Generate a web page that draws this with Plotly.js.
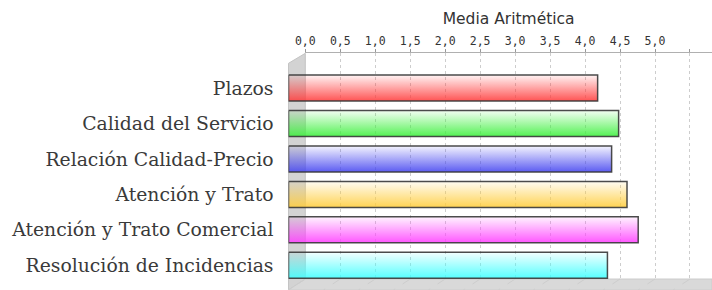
<!DOCTYPE html>
<html>
<head>
<meta charset="utf-8">
<script src="https://cdn.plot.ly/plotly-3.0.1.min.js"></script>
<style>html,body{margin:0;padding:0;background:#fff}#chart{width:712px;height:290px}</style>
</head>
<body>
<div id="chart"></div>
<script>
// ---- data ----
const categories = ["Plazos", "Calidad del Servicio", "Relación Calidad-Precio", "Atención y Trato", "Atención y Trato Comercial", "Resolución de Incidencias"];
const values = [4.42, 4.72, 4.62, 4.84, 5.00, 4.56];
const tickVals = [0, 0.5, 1, 1.5, 2, 2.5, 3, 3.5, 4, 4.5, 5, 5.5];
const tickText = ["0,0", "0,5", "1,0", "1,5", "2,0", "2,5", "3,0", "3,5", "4,0", "4,5", "5,0", ""];
const axisTitle = "Media Aritmética";

// ---- styling / geometry ----
const W = 712, H = 290;
const barRGB = [[255,60,60],[60,240,60],[70,70,240],[255,205,60],[255,64,255],[64,255,255]];
const scale = 69.94;            // px per unit
const frontLeft = 288.5, backLeft = 305.3;
const frontTop = 63.3, backTop = 53.3, backBottom = 279, frontBottom = 290;
const catCenter0 = 88.1, catPitch = 35.43, halfBar = 0.367;
const px = x => x / W, py = y => 1 - y / H;

const traces = [
  // empty trace so the back-plane axis (ticks, grid, title) is drawn
  {type: 'scatter', mode: 'none', x: [], y: [], xaxis: 'x', yaxis: 'y', hoverinfo: 'skip', showlegend: false}
];
categories.forEach((c, i) => {
  const v = values[i];
  const [r, g, b] = barRGB[i];
  traces.push({
    type: 'scatter', mode: 'lines', xaxis: 'x2', yaxis: 'y2',
    x: [0, v, v, 0, 0],
    y: [i - halfBar, i - halfBar, i + halfBar, i + halfBar, i - halfBar],
    fill: 'toself',
    fillgradient: {type: 'vertical', colorscale: [[0, `rgba(${r},${g},${b},0.88)`], [1, `rgba(${r},${g},${b},0.06)`]]},
    line: {color: 'rgba(55,55,55,0.9)', width: 1.5},
    hoverinfo: 'skip', showlegend: false
  });
});

const shapes = [
  {type: 'path', xref: 'paper', yref: 'paper', layer: 'below',
   path: `M ${px(frontLeft)},${py(frontTop)} L ${px(backLeft)},${py(backTop)} L ${px(backLeft)},${py(backBottom)} L ${px(frontLeft)},${py(frontBottom)} Z`,
   fillcolor: '#d3d3d3', line: {color: '#c4c4c4', width: 1}},
  {type: 'path', xref: 'paper', yref: 'paper', layer: 'below',
   path: `M ${px(frontLeft)},${py(frontBottom)} L ${px(backLeft)},${py(backBottom)} L ${px(W)},${py(backBottom)} L ${px(W)},${py(frontBottom)} Z`,
   fillcolor: '#d9d9d9', line: {color: '#cccccc', width: 1}}
];
tickVals.forEach(t => {
  const xb = backLeft + t * scale;
  shapes.push({type: 'line', xref: 'paper', yref: 'paper', layer: 'below',
    x0: px(xb), y0: py(backBottom), x1: px(xb - (backLeft - frontLeft)), y1: py(frontBottom),
    line: {color: '#cdcdcd', width: 1, dash: 'dash'}});
});

const layout = {
  width: W, height: H,
  margin: {l: 0, r: 0, t: 0, b: 0},
  paper_bgcolor: '#ffffff', plot_bgcolor: 'rgba(0,0,0,0)',
  showlegend: false,
  shapes: shapes,
  xaxis: {
    domain: [px(backLeft), 1], range: [0, (W - backLeft) / scale],
    side: 'top', anchor: 'y',
    tickmode: 'array', tickvals: tickVals, ticktext: tickText,
    ticks: 'outside', ticklen: 3, tickcolor: '#999',
    showline: true, linecolor: '#b0b0b0', linewidth: 1,
    showgrid: true, gridcolor: '#cdcdcd', griddash: '3px,3px', gridwidth: 1,
    zeroline: false,
    tickfont: {family: 'DejaVu Sans Mono', size: 11.5, color: '#333'},
    title: {text: axisTitle, font: {family: 'DejaVu Sans', size: 15.5, color: '#333'}, standoff: 5},
    fixedrange: true
  },
  yaxis: {
    domain: [py(backBottom), py(backTop)], range: [0, 1], anchor: 'x',
    showticklabels: false, ticks: '', showline: false, showgrid: false, zeroline: false, fixedrange: true
  },
  xaxis2: {
    domain: [px(frontLeft), 1], range: [0, (W - frontLeft) / scale], anchor: 'y2',
    visible: false, showgrid: false, zeroline: false, fixedrange: true
  },
  yaxis2: {
    domain: [py(frontBottom), py(frontTop)],
    range: [(frontBottom - catCenter0) / catPitch, (frontTop - catCenter0) / catPitch],
    anchor: 'x2',
    tickmode: 'array', tickvals: categories.map((c, i) => i), ticktext: categories,
    ticks: '', showline: false, showgrid: false, zeroline: false,
    ticklabelstandoff: 14,
    tickfont: {family: 'DejaVu Serif', size: 18.8, color: '#3a3a3a'},
    fixedrange: true
  }
};

Plotly.newPlot('chart', traces, layout, {displayModeBar: false, staticPlot: true});
</script>
</body>
</html>
